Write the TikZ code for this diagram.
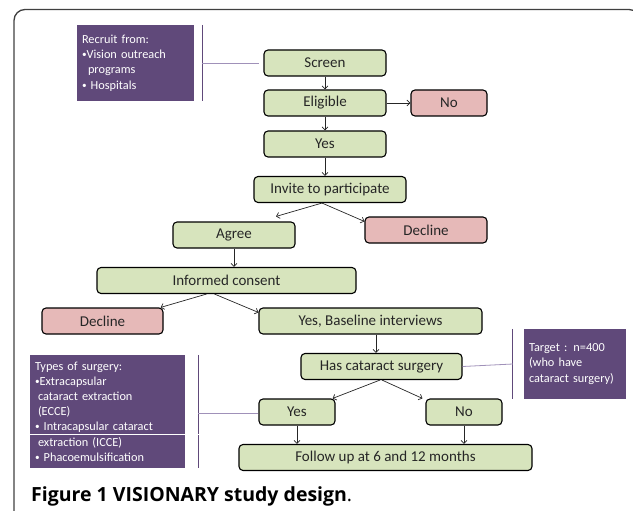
\documentclass[tikz,border=0pt]{standalone}
\usepackage{fontspec}
\setmainfont{Carlito}
\newfontfamily\capfont{Open Sans}
\usepackage{tikz}
\usetikzlibrary{arrows.meta}
\tikzstyle{line} = [draw, black!85, line width=0.7pt, -{Straight Barb[length=3pt,width=6pt]}]
\definecolor{boxgreen}{RGB}{215,228,189}
\definecolor{boxpink}{RGB}{230,185,184}
\definecolor{purp}{RGB}{96,73,122}
\definecolor{lilac}{RGB}{160,145,185}
\newcommand{\bul}{\raisebox{1pt}{\scalebox{0.75}{\textbullet}}}

\begin{document}
\begin{tikzpicture}[x=1pt, y=-1pt,
		stage/.style = {draw, rounded corners=4pt, fill=boxgreen,
			line width=1.1pt, minimum height=26pt, inner sep=0pt,
			font=\fontsize{15}{16}\selectfont, text=black!85},
		stop/.style = {stage, fill=boxpink},
		note/.style = {fill=purp, text=white, align=left, inner xsep=5pt,
			inner ysep=0pt, font=\fontsize{12.3}{15.2}\selectfont}]
		
		\useasboundingbox (0,0) rectangle (633,511);
		
		% Frame
		\begin{scope}
			\clip (0,0) rectangle (633,511);
			\draw[black!75, line width=1.3pt, rounded corners=11pt]
				(14,530) -- (14,9.5) -- (640,9.5) -- (640,530);
		\end{scope}
		
		% Main flow
		\node[stage, minimum width=122pt] (screen) at (325,63) {Screen};
		\node[stage, minimum width=122pt] (eligible) at (325,103) {Eligible};
		\node[stop, minimum width=76pt] (no) at (449,103) {No};
		\node[stage, minimum width=122pt] (yes) at (325,144) {Yes};
		\node[stage, minimum width=152pt] (invite) at (330,189.5) {Invite to participate};
		\node[stage, minimum width=122pt] (agree) at (234,235) {Agree};
		\node[stop, minimum width=122pt] (declineR) at (426,230) {Decline};
		\node[stage, minimum width=259pt] (informed) at (226.5,280.5) {Informed consent};
		\node[stop, minimum width=121pt] (declineL) at (102.5,321) {Decline};
		\node[stage, minimum width=223pt] (baseline) at (370.5,321) {Yes, Baseline interviews};
		\node[stage, minimum width=161pt] (surgery) at (381.5,366.5) {Has cataract surgery};
		\node[stage, minimum width=76pt] (yesS) at (297,412) {Yes};
		\node[stage, minimum width=76pt] (noS) at (464,412) {No};
		\node[stage, minimum width=293pt] (follow) at (385.5,457.5) {Follow up at 6 and 12 months};
		
		% Notes
		\node[note, text width=107pt, minimum height=76pt] (recruit) at (135.5,63)
			{Recruit from:\\ \bul Vision outreach\\ \hspace*{6pt}programs\\ \bul\ Hospitals\\[4pt]};
		\node[note, text width=145pt, minimum height=113pt] (types) at (107.5,411.5)
			{Types of surgery:\\ \bul Extracapsular\\ \hspace*{3pt}cataract extraction\\ \hspace*{3pt}(ECCE)\\
			\bul\ Intracapsular cataract\\ \hspace*{3pt}extraction (ICCE)\\ \bul\ Phacoemulsification};
		\node[note, text width=92pt, minimum height=70pt] (target) at (575,364)
			{Target : n=400\\ (who have\\ cataract surgery)};
		
		% Brackets to the notes
		\draw[purp, line width=0.8pt] ([xshift=8pt]recruit.north east) -- ([xshift=8pt]recruit.south east);
		\draw[lilac, line width=0.8pt] ([xshift=8pt]recruit.east) -- ([xshift=-4pt]screen.west);
		\draw[purp, line width=0.8pt] ([xshift=13pt]types.north east) -- ([xshift=13pt]types.south east);
		\draw[lilac, line width=0.8pt] ([xshift=13pt,yshift=-1.5pt]types.east) -- ([yshift=-1pt]yesS.west);
		\draw[purp, line width=0.8pt] ([xshift=-11pt]target.north west) -- ([xshift=-11pt]target.south west);
		\draw[lilac, line width=0.8pt] (surgery.east) -- ([xshift=-11pt]target.west);
		\draw[white, line width=1pt] ([yshift=-22.5pt]types.west) -- ([xshift=15pt,yshift=-22.5pt]types.east);
		
		% Arrows
		\path[line] (screen) -- (eligible);
		\path[line] (eligible) -- (no);
		\path[line] (eligible) -- (yes);
		\path[line] (yes.south) -- (yes.south |- invite.north);
		\path[line] ([xshift=-8pt]invite.south) -- ([xshift=42pt,yshift=5pt]agree.north);
		\path[line] ([xshift=-8pt]invite.south) -- ([yshift=-5pt]declineR.north west);
		\path[line] (agree.south) -- (agree.south |- informed.north);
		\path[line] ([xshift=-20pt]informed.south) -- ([xshift=-3pt]declineL.north east);
		\path[line] ([xshift=-12pt]informed.south) -- ([yshift=-5pt]baseline.north west);
		\path[line] ([xshift=5.5pt]baseline.south) -- ([xshift=-5.5pt]surgery.north);
		\path[line] ([xshift=-1.5pt]surgery.south) -- ([xshift=-3pt]yesS.north east);
		\path[line] ([xshift=0.5pt]surgery.south) -- ([xshift=-3pt]noS.north west);
		\path[line] (yesS.south) -- (yesS.south |- follow.north);
		\path[line] (noS.south) -- (noS.south |- follow.north);
		
		% Caption
		\node[anchor=base west, inner sep=0pt, font=\capfont\fontsize{19.5}{22}\selectfont] (caption) at (31,501)
			{\textbf{Figure 1 VISIONARY study design}.};
	\end{tikzpicture}
\end{document}
